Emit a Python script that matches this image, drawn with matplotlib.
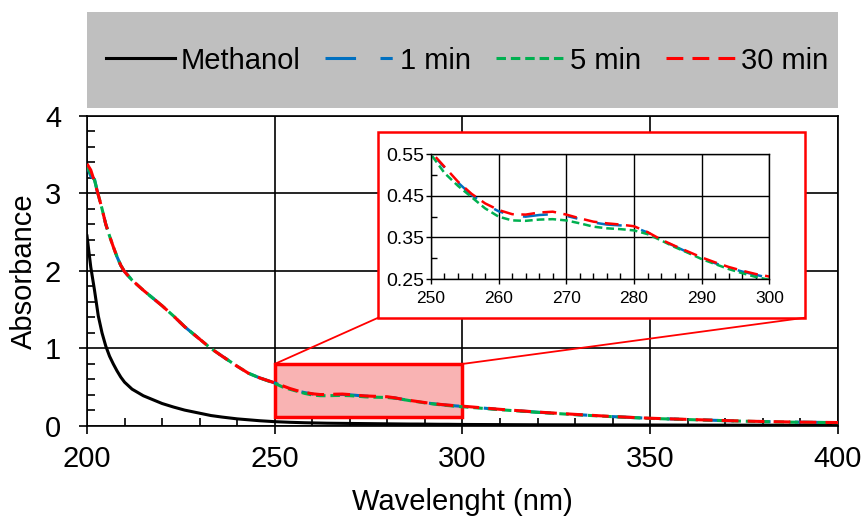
import matplotlib
matplotlib.use('Agg')
import matplotlib.pyplot as plt
from matplotlib.patches import Rectangle, ConnectionPatch
from matplotlib.ticker import MultipleLocator, FixedLocator

plt.rcParams['font.family'] = ['Liberation Sans', 'DejaVu Sans']

# Wellenlängen (nm)
wl = [200, 201, 202, 203, 204, 205, 206, 207, 208, 209, 210, 212, 215, 218, 220, 223, 226, 230, 233, 236, 240, 243, 246, 250,
      252, 254, 256, 258, 260, 262, 264, 266, 268, 270, 272, 274, 276, 278, 280, 282, 284, 286, 288, 290, 292, 294, 296, 298, 300,
      310, 320, 330, 340, 350, 360, 370, 380, 390, 400]

methanol = [2.45, 2.05, 1.75, 1.42, 1.20, 1.03, 0.90, 0.80, 0.71, 0.63, 0.565, 0.475, 0.39, 0.33, 0.29, 0.245, 0.205, 0.165, 0.135, 0.115, 0.092, 0.08, 0.068, 0.056,
            0.052, 0.048, 0.045, 0.042, 0.040, 0.038, 0.036, 0.035, 0.034, 0.033, 0.032, 0.031, 0.030, 0.029, 0.028, 0.027, 0.026, 0.025, 0.025, 0.024, 0.023, 0.022, 0.022, 0.021, 0.020,
            0.018, 0.016, 0.015, 0.014, 0.013, 0.012, 0.011, 0.011, 0.010, 0.010]

min1 = [3.35, 3.22, 3.18, 2.97, 2.80, 2.60, 2.45, 2.31, 2.18, 2.07, 1.99, 1.88, 1.75, 1.63, 1.55, 1.42, 1.28, 1.12, 1.00, 0.90, 0.77, 0.68, 0.62, 0.555,
        0.518, 0.482, 0.452, 0.430, 0.413, 0.403, 0.400, 0.404, 0.406, 0.402, 0.394, 0.386, 0.381, 0.379, 0.375, 0.362, 0.344, 0.329, 0.314, 0.300, 0.288, 0.277, 0.268, 0.260, 0.253,
        0.213, 0.178, 0.148, 0.121, 0.099, 0.084, 0.069, 0.057, 0.049, 0.044]

min5 = [3.35, 3.25, 3.17, 2.98, 2.80, 2.60, 2.45, 2.31, 2.18, 2.07, 1.99, 1.88, 1.75, 1.63, 1.55, 1.42, 1.28, 1.12, 1.00, 0.90, 0.77, 0.68, 0.62, 0.55,
        0.505, 0.474, 0.447, 0.420, 0.400, 0.391, 0.390, 0.393, 0.394, 0.391, 0.384, 0.376, 0.372, 0.370, 0.367, 0.358, 0.343, 0.327, 0.313, 0.298, 0.286, 0.274, 0.264, 0.255, 0.248,
        0.210, 0.176, 0.146, 0.120, 0.098, 0.083, 0.068, 0.056, 0.048, 0.043]

min30 = [3.38, 3.30, 3.15, 2.98, 2.80, 2.60, 2.45, 2.31, 2.18, 2.07, 1.99, 1.88, 1.75, 1.63, 1.55, 1.42, 1.28, 1.12, 1.00, 0.90, 0.77, 0.68, 0.62, 0.556,
         0.520, 0.484, 0.455, 0.432, 0.416, 0.406, 0.405, 0.410, 0.412, 0.405, 0.396, 0.388, 0.384, 0.381, 0.377, 0.363, 0.345, 0.330, 0.316, 0.302, 0.290, 0.279, 0.270, 0.262, 0.256,
         0.215, 0.180, 0.150, 0.122, 0.100, 0.085, 0.070, 0.058, 0.050, 0.045]

labels = ['Methanol', '1 min', '5 min', '30 min']

series = [
    (methanol, 'black', '-'),
    (min1, '#0070C0', (0, (10, 8, 4, 8))),
    (min5, '#00B050', (0, (3.1, 1.6))),
    (min30, '#FF0000', (0, (5.5, 3))),
]

fig = plt.figure(figsize=(8.64, 5.17), dpi=100)
ax = fig.add_axes([0.1007, 0.176, 0.8692, 0.6002])

lines = []
for (y, c, ls), lab in zip(series, labels):
    l, = ax.plot(wl, y, color=c, linestyle=ls, lw=2.2, label=lab, zorder=3)
    lines.append(l)

ax.set_xlim(200, 400)
ax.set_ylim(0, 4)
ax.xaxis.set_major_locator(MultipleLocator(50))
ax.xaxis.set_minor_locator(MultipleLocator(10))
ax.yaxis.set_major_locator(MultipleLocator(1))
ax.yaxis.set_minor_locator(MultipleLocator(0.2))
ax.grid(True, which='major', color='black', lw=1.2)
ax.tick_params(which='major', direction='out', length=6, width=1.2, labelsize=21)
ax.tick_params(axis='x', which='major', pad=8)
ax.tick_params(axis='y', which='major', pad=12.7)
ax.tick_params(which='minor', direction='in', length=5.5, width=1.2)
for s in ax.spines.values():
    s.set_linewidth(1.2)
ax.set_xlabel('Wavelenght (nm)', fontsize=21, labelpad=10.5)
ax.set_ylabel('Absorbance', fontsize=21, labelpad=5)

# markierter Bereich
ax.add_patch(Rectangle((250, 0.12), 50, 0.68, facecolor='#F9B3B3', edgecolor='red', lw=2.5, zorder=2))

# Legende auf grauem Balken
fig.add_artist(Rectangle((0.1007, 0.7905), 0.8692, 0.1857, transform=fig.transFigure,
                         facecolor='#BFBFBF', edgecolor='none', zorder=1))
leg = fig.legend(handles=lines, loc='center', bbox_to_anchor=(0.5403, 0.8826), ncol=4, frameon=False,
                 fontsize=21, handlelength=2.37, handletextpad=0.18, columnspacing=0.86)
leg.set_zorder(2)

# Inset-Rahmen
fx0, fy0, fw, fh = 0.4378, 0.3855, 0.4939, 0.3598
fig.add_artist(Rectangle((fx0, fy0), fw, fh, transform=fig.transFigure,
                         facecolor='white', edgecolor='red', lw=1.8, zorder=1))
for xa, xb in [(250, fx0), (300, fx0 + fw)]:
    con = ConnectionPatch(xyA=(xa, 0.8), coordsA=ax.transData, xyB=(xb, fy0), coordsB=fig.transFigure,
                          color='red', lw=1.3, zorder=1)
    fig.add_artist(con)

axi = fig.add_axes([0.4988, 0.4603, 0.3916, 0.2412], zorder=2)
for (y, c, ls), lab in zip(series[1:], labels[1:]):
    axi.plot(wl, y, color=c, linestyle=ls, lw=1.8)
axi.set_xlim(250, 300)
axi.set_ylim(0.25, 0.55)
axi.xaxis.set_major_locator(MultipleLocator(10))
axi.xaxis.set_minor_locator(MultipleLocator(2))
axi.yaxis.set_major_locator(FixedLocator([0.25, 0.35, 0.45, 0.55]))
axi.yaxis.set_minor_locator(MultipleLocator(0.05))
axi.yaxis.set_major_formatter(plt.FuncFormatter(lambda v, p: f'{v:.2f}'))
axi.grid(True, which='major', color='black', lw=1.0)
axi.tick_params(which='major', direction='out', length=3.6, width=1.0)
axi.tick_params(axis='x', which='major', labelsize=12.5, pad=5)
axi.tick_params(axis='y', which='major', labelsize=14, pad=1.5)
axi.tick_params(which='minor', direction='in', length=4, width=1.0)
for s in axi.spines.values():
    s.set_linewidth(1.0)

fig.savefig('out.png', dpi=100)
